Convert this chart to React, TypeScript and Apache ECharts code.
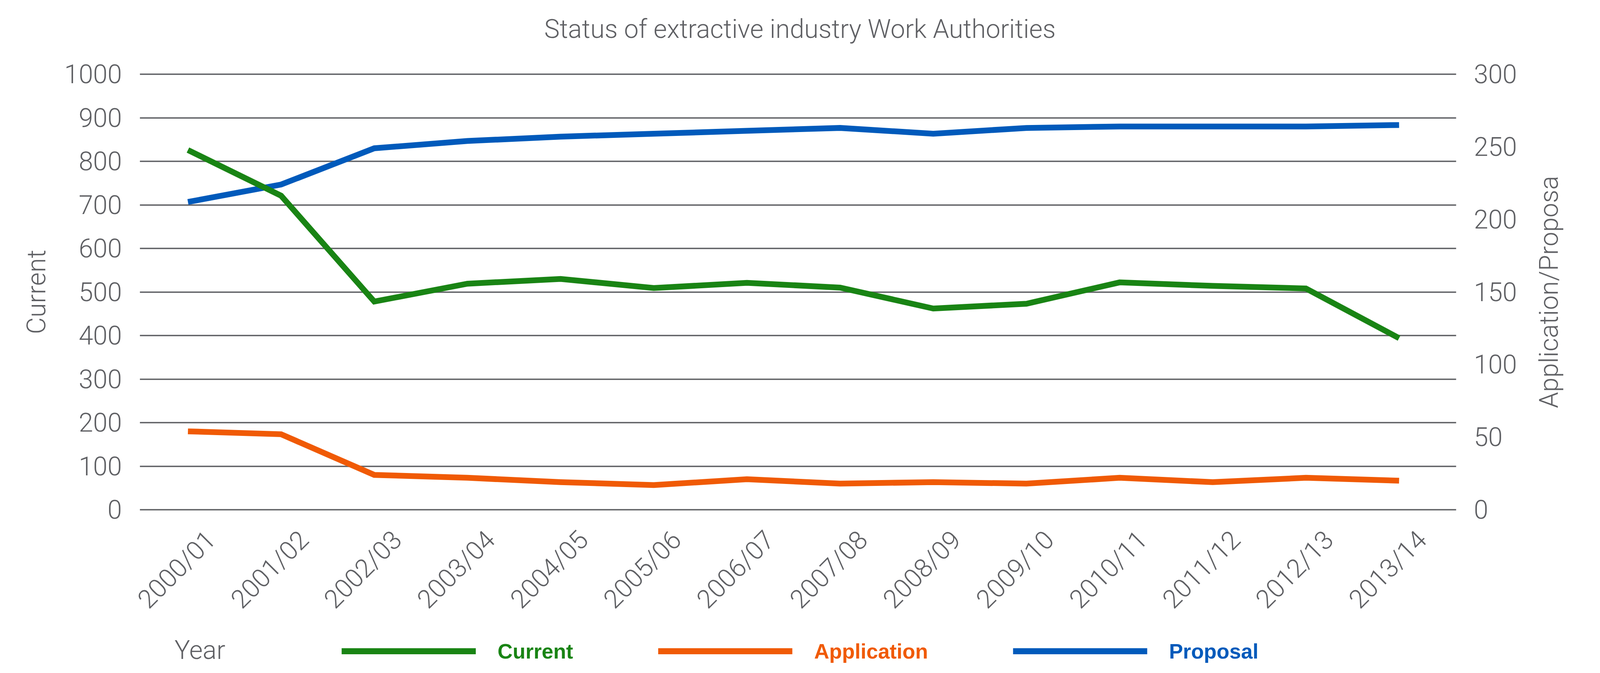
import { useEffect, useRef } from "react";
import * as echarts from "echarts";

// work authority counts per financial year
const years = [
  "2000/01", "2001/02", "2002/03", "2003/04", "2004/05", "2005/06", "2006/07",
  "2007/08", "2008/09", "2009/10", "2010/11", "2011/12", "2012/13", "2013/14",
];
const current = [826, 721, 478, 519, 530, 509, 521, 510, 462, 473, 522, 514, 508, 394];
const application = [54, 52, 24, 22, 19, 17, 21, 18, 19, 18, 22, 19, 22, 20];
const proposal = [212, 224, 249, 254, 257, 259, 261, 263, 259, 263, 264, 264, 264, 265];

const GREEN = "#198414";
const ORANGE = "#f05a05";
const BLUE = "#005abb";
const GREY = "#5f6064";
const FONT = "Roboto, 'Liberation Sans', sans-serif";

// layout was measured on a 4437 x 1723 picture; scale it to whatever the page is
const REF_W = 4437;
const REF_H = 1723;

export default function App() {
  const ref = useRef<HTMLDivElement>(null);

  useEffect(() => {
    if (!ref.current) return;
    const el = ref.current;
    const chart = echarts.init(el, undefined, { renderer: "svg" });
    const kx = el.clientWidth / REF_W;
    const ky = el.clientHeight / REF_H;
    const k = Math.min(kx, ky);
    const X = (v: number) => v * kx;
    const Y = (v: number) => v * ky;
    const S = (v: number) => v * k;

    const text = { fontFamily: FONT, fontWeight: 300, fontSize: S(72), color: GREY };
    const top = Y(190);
    const bottom = Y(418);
    const line = (color: string) => ({ color, width: S(16), join: "miter", cap: "butt" });

    chart.setOption({
      animation: false,
      backgroundColor: "#ffffff",
      title: {
        text: "Status of extractive industry Work Authorities",
        left: "center",
        top: Y(36),
        textStyle: { ...text },
      },
      legend: {
        left: X(942),
        top: Y(1662) - S(29),
        icon: "rect",
        itemWidth: X(372),
        itemHeight: S(17),
        itemGap: X(236),
        textStyle: {
          fontFamily: "'Liberation Sans', Arial, sans-serif",
          fontWeight: "bold",
          fontSize: S(58),
          lineHeight: S(58),
          padding: [0, 0, 0, X(55)],
        },
        data: [
          { name: "Current", textStyle: { color: GREEN } },
          { name: "Application", textStyle: { color: ORANGE } },
          { name: "Proposal", textStyle: { color: BLUE } },
        ],
      },
      graphic: [
        {
          type: "text",
          x: X(484),
          y: Y(1664),
          style: {
            text: "Year",
            fill: GREY,
            fontFamily: FONT,
            fontWeight: 300,
            fontSize: S(72),
            verticalAlign: "middle",
          },
        },
      ],
      // 0: data grid, 1: gridlines + value axes, 2: year labels
      grid: [
        { left: X(392), right: X(428), top, bottom },
        { left: X(388), right: X(399), top, bottom },
        { left: X(430), right: X(390), top, bottom },
      ],
      xAxis: [
        {
          gridIndex: 0,
          type: "category",
          data: years,
          boundaryGap: true,
          axisLine: { show: false },
          axisTick: { show: false },
          axisLabel: { show: false },
        },
        { gridIndex: 1, type: "value", show: false },
        {
          gridIndex: 2,
          type: "category",
          data: years,
          boundaryGap: true,
          axisLine: { show: false },
          axisTick: { show: false },
          axisLabel: {
            ...text,
            interval: 0,
            rotate: 45,
            margin: Y(42),
            align: "right",
            verticalAlign: "top",
          },
        },
      ],
      yAxis: [
        { gridIndex: 0, type: "value", min: 0, max: 1000, show: false },
        { gridIndex: 0, type: "value", min: 0, max: 300, show: false },
        {
          gridIndex: 1,
          type: "value",
          position: "left",
          min: 0,
          max: 1000,
          interval: 100,
          name: "Current",
          nameLocation: "middle",
          nameRotate: 90,
          nameGap: X(251),
          nameTextStyle: { ...text },
          axisLine: { show: false },
          axisTick: { show: false },
          axisLabel: { ...text, margin: X(50), formatter: (v: number) => String(v) },
          splitLine: { show: true, lineStyle: { color: GREY, width: S(4) } },
        },
        {
          gridIndex: 1,
          type: "value",
          position: "right",
          min: 0,
          max: 300,
          interval: 50,
          name: "Application/Proposa",
          nameLocation: "middle",
          nameRotate: 90,
          nameGap: X(221),
          nameTextStyle: { ...text },
          axisLine: { show: false },
          axisTick: { show: false },
          axisLabel: { ...text, margin: X(49), formatter: (v: number) => String(v) },
          splitLine: { show: false },
        },
        { gridIndex: 2, type: "value", show: false },
      ],
      series: [
        {
          name: "Proposal",
          type: "line",
          xAxisIndex: 0,
          yAxisIndex: 1,
          data: proposal,
          color: BLUE,
          showSymbol: false,
          lineStyle: line(BLUE),
          z: 2,
        },
        {
          name: "Application",
          type: "line",
          xAxisIndex: 0,
          yAxisIndex: 1,
          data: application,
          color: ORANGE,
          showSymbol: false,
          lineStyle: line(ORANGE),
          z: 3,
        },
        {
          name: "Current",
          type: "line",
          xAxisIndex: 0,
          yAxisIndex: 0,
          data: current,
          color: GREEN,
          showSymbol: false,
          lineStyle: line(GREEN),
          z: 4,
        },
      ],
    });

    return () => chart.dispose();
  }, []);

  return (
    <div
      ref={ref}
      style={{ position: "fixed", left: 0, top: 0, width: "100vw", height: "100vh" }}
    />
  );
}
